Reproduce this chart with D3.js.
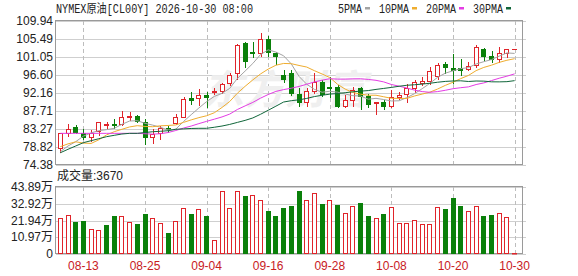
<!DOCTYPE html>
<html>
<head>
<meta charset="utf-8">
<script src="https://cdn.jsdelivr.net/npm/d3@7"></script>
<style>
  body { margin: 0; background: #fff; }
  svg { display: block; background: #fff; }
  text { font-family: "Liberation Sans", Arial, "Noto Sans CJK SC", sans-serif; font-size: 12px; fill: #222; }
  .mono { font-family: "Liberation Mono", "Noto Sans CJK SC", monospace; }
</style>
</head>
<body>
<div id="chart"></div>
<script>
////////////////////////////////////////////////////////////////////
////////////////////////////  Data  ////////////////////////////////
const title = "NYMEX原油[CL00Y] 2026-10-30 08:00";

const dates = [
  "08-10", "08-11", "08-12", "08-13", "08-14", "08-17", "08-18", "08-19", "08-20", "08-21",
  "08-24", "08-25", "08-26", "08-27", "08-28", "08-31", "09-01", "09-02", "09-03", "09-04",
  "09-07", "09-08", "09-09", "09-10", "09-11", "09-14", "09-15", "09-16", "09-17", "09-18",
  "09-21", "09-22", "09-23", "09-24", "09-25", "09-28", "09-29", "09-30", "10-01", "10-02",
  "10-05", "10-06", "10-07", "10-08", "10-09", "10-12", "10-13", "10-14", "10-15", "10-16",
  "10-19", "10-20", "10-21", "10-22", "10-23", "10-26", "10-27", "10-28", "10-29", "10-30"
];
const tickDates = ["08-13", "08-25", "09-04", "09-16", "09-28", "10-08", "10-20", "10-30"];

const open = [
  78.50, 82.21, 83.69, 82.21, 81.37, 82.77, 84.30, 84.50, 84.50, 86.16,
  86.48, 84.92, 81.22, 82.21, 83.45, 84.83, 86.31, 90.85, 90.85, 91.67,
  92.34, 92.73, 94.56, 97.02, 104.43, 102.36, 102.11, 105.42, 102.11, 96.60,
  97.02, 91.91, 90.02, 92.73, 94.95, 93.72, 93.72, 88.95, 90.43, 93.32,
  91.42, 89.62, 90.02, 88.95, 91.25, 91.91, 93.32, 94.71, 95.20, 96.36,
  99.25, 98.26, 98.26, 98.00, 99.08, 102.95, 101.30, 100.48, 102.11, 102.95
];
const high = [
  82.30, 84.50, 84.18, 83.20, 83.03, 84.95, 84.93, 85.66, 87.79, 87.54,
  86.70, 85.74, 83.20, 84.01, 84.00, 86.90, 91.20, 92.33, 93.03, 92.34,
  93.30, 94.70, 97.00, 104.20, 104.83, 104.80, 106.90, 106.20, 102.40, 97.84,
  97.84, 93.32, 93.32, 97.02, 95.36, 96.19, 94.10, 91.67, 93.72, 93.72,
  92.00, 90.02, 90.43, 92.90, 92.49, 94.38, 95.36, 96.03, 98.50, 99.50,
  99.90, 101.72, 100.48, 99.90, 104.00, 103.20, 102.60, 103.45, 102.95, 102.95
];
const low = [
  77.51, 81.54, 82.36, 80.73, 80.38, 81.79, 83.45, 83.45, 84.26, 85.50,
  85.00, 79.57, 79.74, 80.73, 82.60, 84.50, 86.20, 89.37, 89.20, 88.78,
  91.90, 92.20, 94.10, 95.54, 98.65, 100.97, 101.30, 101.30, 99.32, 94.95,
  91.67, 88.95, 88.95, 92.24, 91.42, 91.25, 88.63, 88.63, 88.95, 88.13,
  88.63, 86.90, 88.13, 88.63, 90.60, 90.02, 92.49, 94.14, 94.38, 95.54,
  97.02, 94.55, 96.60, 97.80, 98.65, 100.30, 99.90, 99.90, 101.13, 102.95
];
const close = [
  82.21, 83.20, 82.61, 81.22, 82.36, 84.92, 84.45, 84.20, 86.16, 86.48,
  85.32, 81.22, 81.96, 83.45, 83.20, 86.31, 90.68, 90.43, 91.67, 91.10,
  92.73, 94.38, 96.60, 104.00, 100.14, 102.11, 105.42, 102.36, 101.30, 95.54,
  92.08, 90.02, 92.73, 94.95, 91.91, 93.32, 88.95, 90.43, 92.90, 91.42,
  89.45, 90.02, 88.95, 91.10, 91.67, 93.32, 94.95, 95.12, 97.67, 99.08,
  98.50, 97.84, 97.80, 98.90, 103.60, 101.30, 100.48, 101.96, 102.95, 102.95
];

// volume, 万
const volume = [
  23.4, 25.5, 21.2, 21.6, 16.2, 15.7, 19.0, 24.9, 24.9, 20.8,
  19.7, 26.2, 23.4, 20.5, 14.0, 21.6, 29.9, 26.2, 29.3, 24.9,
  9.2, 41.3, 29.9, 41.3, 38.0, 38.7, 35.4, 28.2, 24.9, 30.3,
  31.6, 41.5, 35.4, 39.7, 32.7, 35.4, 32.1, 27.1, 31.4, 33.6,
  24.9, 23.4, 26.2, 30.6, 20.5, 20.5, 22.3, 19.7, 19.7, 30.6,
  29.3, 36.5, 31.4, 28.2, 31.4, 24.9, 25.5, 27.1, 24.0, 0.367
];
const lastVolume = "3670";

const ma5 = [
  77.67, 79.07, 80.14, 81.50, 82.32, 82.86, 83.11, 83.43, 84.42, 85.24,
  85.32, 84.68, 84.23, 83.69, 83.03, 83.23, 85.12, 86.81, 88.46, 90.04,
  91.32, 92.06, 93.30, 95.76, 97.57, 99.45, 101.65, 102.81, 102.27, 101.35,
  99.34, 96.26, 94.33, 93.06, 92.34, 92.59, 92.37, 91.91, 91.50, 91.40,
  90.63, 90.84, 90.55, 90.19, 90.24, 91.01, 92.00, 93.23, 94.55, 96.03,
  97.06, 97.64, 98.18, 98.42, 99.33, 99.89, 100.42, 101.25, 102.06, 101.93
];
const ma10 = [
  78.90, 79.60, 80.10, 79.80, 79.70, 80.60, 81.80, 82.60, 83.20, 83.78,
  84.09, 83.90, 83.83, 84.06, 84.14, 84.28, 84.90, 85.52, 86.08, 86.54,
  87.28, 88.59, 90.06, 92.11, 93.81, 95.39, 96.86, 98.06, 99.02, 99.46,
  99.40, 98.96, 98.57, 97.67, 96.85, 95.97, 94.32, 93.12, 92.28, 91.87,
  91.61, 91.61, 91.23, 90.85, 90.82, 90.82, 91.42, 91.89, 92.37, 93.14,
  94.04, 94.82, 95.71, 96.49, 97.68, 98.48, 99.03, 99.72, 100.24, 100.63
];
const ma20 = [
  82.20, 82.20, 82.20, 82.20, 82.20, 82.20, 82.20, 82.20, 82.20, 82.20,
  82.20, 82.10, 82.00, 82.10, 82.40, 82.90, 83.50, 84.00, 84.60, 85.16,
  85.69, 86.25, 86.95, 88.09, 88.98, 89.84, 90.88, 91.79, 92.55, 93.00,
  93.34, 93.78, 94.32, 94.89, 95.33, 95.68, 95.59, 95.59, 95.65, 95.67,
  95.51, 95.29, 94.90, 94.26, 93.84, 93.40, 92.87, 92.51, 92.33, 92.51,
  92.83, 93.22, 93.47, 93.67, 94.25, 94.65, 95.23, 95.81, 96.31, 96.89
];
const ma30 = [
  77.40, 78.26, 79.07, 79.90, 80.38, 80.87, 81.37, 81.71, 82.03, 82.20,
  82.20, 82.40, 82.60, 82.70, 82.85, 83.20, 83.30, 83.40, 83.44, 83.44,
  83.70, 84.00, 84.40, 84.90, 85.40, 86.00, 86.90, 87.90, 88.90, 89.93,
  90.26, 90.48, 90.82, 91.28, 91.60, 91.88, 92.03, 92.23, 92.46, 92.62,
  92.76, 93.05, 93.29, 93.54, 93.83, 94.06, 94.20, 94.36, 94.56, 94.82,
  95.02, 95.13, 95.17, 95.00, 95.12, 95.09, 94.92, 94.91, 94.96, 95.21
];

const maNames = ["5PMA", "10PMA", "20PMA", "30PMA"];
const priceTicks = [109.94, 105.49, 101.05, 96.60, 92.16, 87.71, 83.27, 78.82, 74.38];
const volTicks = [0, 10.97, 21.94, 32.92, 43.89];

////////////////////////////////////////////////////////////////////
////////////////////////////  Init  ////////////////////////////////
const width = 578;
const height = 276;
const plot = { left: 56, right: 523, top: 21, bottom: 165 };
const vol = { top: 187, bottom: 254 };

const upColor = "#e0242a";
const downColor = "#0a800a";
const maColors = ["#a3a3a3", "#efad2f", "#e43ce4", "#10663a"];

const svg = d3
  .select("#chart")
  .append("svg")
  .attr("width", width)
  .attr("height", height);

// scales
const xScale = d3.scaleBand().domain(dates).range([56.45, 518.45]).padding(0);
const xc = (d) => xScale(d) + xScale.bandwidth() / 2;
const crisp = (v) => Math.round(v) + 0.5;

const yScale = d3
  .scaleLinear()
  .domain([d3.min(priceTicks), d3.max(priceTicks)])
  .range([plot.bottom, plot.top]);

const vScale = d3
  .scaleLinear()
  .domain([0, d3.max(volTicks)])
  .range([vol.bottom, vol.top]);

const candles = dates.map((d, i) => ({
  date: d,
  o: open[i],
  h: high[i],
  l: low[i],
  c: close[i],
  v: volume[i],
  up: close[i] >= open[i],
  volUp: i === 0 ? true : close[i] >= close[i - 1]
}));

////////////////////////////////////////////////////////////////////
////////////////////////////  Grid  ////////////////////////////////
const grid = svg.append("g");

grid
  .selectAll(".hgrid")
  .data(priceTicks)
  .enter()
  .append("line")
  .attr("x1", plot.left)
  .attr("x2", plot.right + 3)
  .attr("y1", (d) => crisp(yScale(d)))
  .attr("y2", (d) => crisp(yScale(d)))
  .attr("stroke", "#cfcfcf");

grid
  .selectAll(".vgrid")
  .data(volTicks)
  .enter()
  .append("line")
  .attr("x1", plot.left)
  .attr("x2", plot.right + 3)
  .attr("y1", (d) => crisp(vScale(d)))
  .attr("y2", (d) => crisp(vScale(d)))
  .attr("stroke", "#cfcfcf");

// dashed date lines in both panels
[[plot.top, plot.bottom], [vol.top, vol.bottom]].forEach(([y0, y1]) => {
  grid
    .selectAll(null)
    .data(tickDates)
    .enter()
    .append("line")
    .attr("x1", (d) => crisp(xc(d)))
    .attr("x2", (d) => crisp(xc(d)))
    .attr("y1", y0)
    .attr("y2", y1)
    .attr("stroke", "#bdbdbd")
    .attr("stroke-dasharray", "4,3");
});

// watermark
svg
  .append("text")
  .attr("x", 205)
  .attr("y", 104)
  .attr("transform", "skewX(-12) translate(20,0)")
  .attr("textLength", 165)
  .attr("lengthAdjust", "spacingAndGlyphs")
  .style("font-family", "'Noto Sans CJK SC'")
  .style("font-size", "40px")
  .style("font-weight", "bold")
  .style("fill", "#efefef")
  .text("东方财富");

// frames
svg
  .append("rect")
  .attr("x", plot.left - 0.5)
  .attr("y", plot.top - 0.5)
  .attr("width", plot.right - plot.left)
  .attr("height", plot.bottom - plot.top)
  .attr("fill", "none")
  .attr("stroke", "#9a9a9a");

svg
  .append("rect")
  .attr("x", plot.left - 0.5)
  .attr("y", vol.top - 0.5)
  .attr("width", plot.right - plot.left)
  .attr("height", vol.bottom - vol.top)
  .attr("fill", "none")
  .attr("stroke", "#9a9a9a");

////////////////////////////////////////////////////////////////////
////////////////////////////  Candles  /////////////////////////////
const cg = svg.append("g");

cg.selectAll(".wick")
  .data(candles)
  .enter()
  .append("line")
  .attr("x1", (d) => crisp(xc(d.date)))
  .attr("x2", (d) => crisp(xc(d.date)))
  .attr("y1", (d) => Math.round(yScale(d.h)))
  .attr("y2", (d) => Math.round(yScale(d.l)) + 1)
  .attr("stroke", (d) => (d.up ? upColor : downColor));

candles.forEach((d) => {
  const left = Math.round(xc(d.date) - 2.5);
  const yTop = Math.round(yScale(Math.max(d.o, d.c)));
  const yBot = Math.round(yScale(Math.min(d.o, d.c)));
  const h = yBot - yTop;
  if (h < 1) {
    cg.append("line")
      .attr("x1", left)
      .attr("x2", left + 5)
      .attr("y1", yTop + 0.5)
      .attr("y2", yTop + 0.5)
      .attr("stroke", d.up ? upColor : downColor);
  } else if (d.up) {
    cg.append("rect")
      .attr("x", left + 0.5)
      .attr("y", yTop + 0.5)
      .attr("width", 4)
      .attr("height", h)
      .attr("fill", "#fff")
      .attr("stroke", upColor);
  } else {
    cg.append("rect")
      .attr("x", left)
      .attr("y", yTop)
      .attr("width", 5)
      .attr("height", h + 1)
      .attr("fill", downColor);
  }
});

// moving averages
const maSeries = [ma5, ma10, ma20, ma30];
const line = d3
  .line()
  .x((d, i) => xc(dates[i]))
  .y((d) => yScale(d));

svg
  .selectAll(".ma")
  .data(maSeries)
  .enter()
  .append("path")
  .attr("d", (d) => line(d))
  .attr("fill", "none")
  .attr("stroke", (d, i) => maColors[i])
  .attr("stroke-width", 1);

////////////////////////////////////////////////////////////////////
////////////////////////////  Volume  //////////////////////////////
candles.forEach((d) => {
  const left = Math.round(xc(d.date) - 2.5);
  const yTop = Math.round(vScale(d.v));
  const h = Math.max(vol.bottom - yTop, 1);
  if (d.volUp) {
    svg
      .append("rect")
      .attr("x", left + 0.5)
      .attr("y", yTop + 0.5)
      .attr("width", 4)
      .attr("height", Math.max(h - 1, 0.5))
      .attr("fill", "#fff")
      .attr("stroke", upColor);
  } else {
    svg
      .append("rect")
      .attr("x", left)
      .attr("y", yTop)
      .attr("width", 5)
      .attr("height", h)
      .attr("fill", downColor);
  }
});

////////////////////////////////////////////////////////////////////
////////////////////////////  Labels  //////////////////////////////
svg
  .selectAll(".ylab")
  .data(priceTicks)
  .enter()
  .append("text")
  .attr("x", 53)
  .attr("y", (d) => yScale(d))
  .attr("dy", "0.35em")
  .style("text-anchor", "end")
  .text((d) => d.toFixed(2));

svg
  .selectAll(".vlab")
  .data(volTicks)
  .enter()
  .append("text")
  .attr("x", 53)
  .attr("y", (d) => vScale(d))
  .attr("dy", "0.35em")
  .style("text-anchor", "end")
  .text((d) => (d === 0 ? "0" : d.toFixed(2) + "万"));

svg
  .selectAll(".xlab")
  .data(tickDates)
  .enter()
  .append("text")
  .attr("x", (d) => xc(d))
  .attr("y", 270)
  .style("text-anchor", "middle")
  .style("fill", "#c8201e")
  .text((d) => d);

svg
  .append("text")
  .attr("x", 57)
  .attr("y", 180)
  .text("成交量:" + lastVolume);

// title
svg
  .append("text")
  .attr("class", "mono")
  .attr("x", 56)
  .attr("y", 13)
  .attr("textLength", 197)
  .attr("lengthAdjust", "spacingAndGlyphs")
  .text(title);

// legend
let lx = 338;
maNames.forEach((name, k) => {
  const w = name.length * 6;
  svg
    .append("text")
    .attr("class", "mono")
    .attr("x", lx)
    .attr("y", 13)
    .attr("textLength", w)
    .attr("lengthAdjust", "spacingAndGlyphs")
    .text(name);
  svg
    .append("rect")
    .attr("x", lx + w + 3)
    .attr("y", 7)
    .attr("width", 5)
    .attr("height", 2.5)
    .attr("fill", maColors[k]);
  lx += w + 3 + 5 + 9;
});
</script>
</body>
</html>
